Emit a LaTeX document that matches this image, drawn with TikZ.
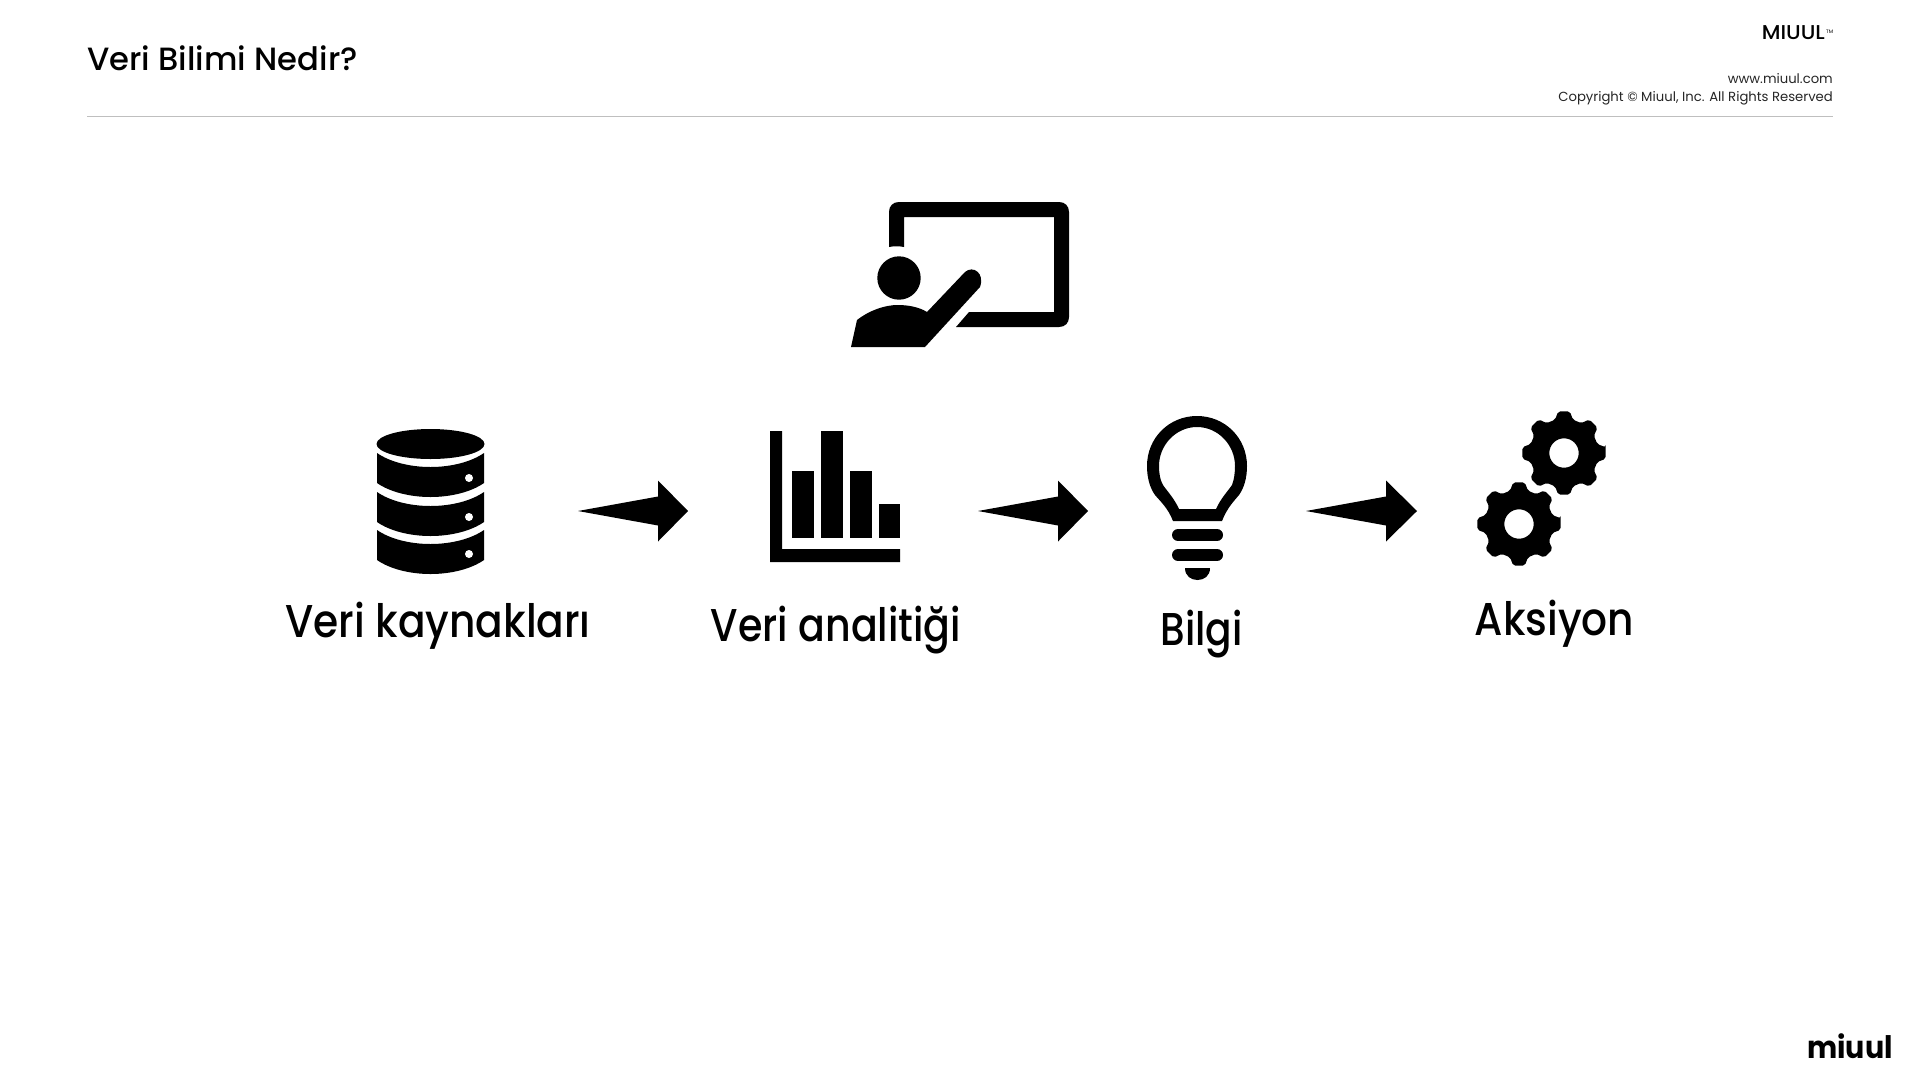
\documentclass[tikz,border=0pt]{standalone}
\usepackage{fontspec}
\setmainfont{Poppins}
\newfontfamily\medfont{Poppins Medium}
\usetikzlibrary{calc}
\tikzset{
  label/.style={anchor=base,inner sep=0pt,font=\medfont\fontsize{46}{46}\selectfont},
  foot/.style={anchor=base east,inner sep=0pt,text=black!85,font=\fontsize{13.2}{13.2}\selectfont},
  flowarrow/.style={fill=black,to path={-- ($(\tikztostart)+(80,-14.5)$) -- ($(\tikztostart)+(80,-30.5)$) -- (\tikztotarget) -- ($(\tikztostart)+(80,30.5)$) -- ($(\tikztostart)+(80,14.5)$) -- cycle}},
}
\begin{document}
\begin{tikzpicture}[x=1pt,y=-1pt]
\useasboundingbox (0,0)rectangle(1920,1080);
\fill[white] (0,0)rectangle(1920,1080);
% header
\node[anchor=base west,inner sep=0pt,font=\medfont\fontsize{32.2}{32.2}\selectfont] (title) at (87,70) {Veri Bilimi Nedir?};
\node[foot,text=black,font=\medfont\fontsize{20}{20}\selectfont] (brand) at (1825,39) {\scalebox{1.06}[1]{MIUUL}};
\node[anchor=base west,inner sep=0pt,font=\fontsize{5}{5}\selectfont] (tm) at (1826,33) {TM};
\node[foot] (web) at (1833,83.5) {www.miuul.com};
\node[foot] (copy) at (1833,101.5) {Copyright © Miuul, Inc. All Rights Reserved};
\draw[black!25,line width=1pt] (87,116.5)--(1833,116.5);
% board
\fill (889,247)--(889,212) .. controls (889,206) and (893,202) .. (899,202)--(1059,202) .. controls (1065,202) and (1069,206) .. (1069,212)--(1069,317) .. controls (1069,323) and (1065,327) .. (1059,327)--(956,327)--(969,312)--(1054,312)--(1054,217)--(904,217)--(904,247) .. controls (899,246) and (894,246) .. (889,247)--cycle;
\fill (899,278) circle[radius=21.7];
\fill (851,347)--(857,320) .. controls (870,310) and (885,305) .. (898,305) .. controls (908,305) and (919,307) .. (927,312)--(965,272) .. controls (973,265) and (985,273) .. (980,287)--(925,347)--cycle;
% database
\fill (430.5,444) ellipse[x radius=54,y radius=15];
\foreach \t/\b in {453/483,492/522,530/560}
  \fill (377,\t) .. controls (390,\t+9) and (410,\t+14) .. (430.5,\t+14) .. controls (451,\t+14) and (471,\t+9) .. (484,\t)--(484,\b) .. controls (471,\b+9) and (451,\b+14) .. (430.5,\b+14) .. controls (410,\b+14) and (390,\b+9) .. (377,\b)--cycle;
\foreach \y in {478,517,554}\fill[white] (469,\y) circle[radius=4];
% chart
\fill (770,431)--(782,431)--(782,549)--(900,549)--(900,562)--(770,562)--cycle;
\fill (792,471)rectangle(814,538);
\fill (821,431)rectangle(843,538);
\fill (850,471)rectangle(872,538);
\fill (879,504)rectangle(900,538);
% bulb
\fill[even odd rule] (1173,521) .. controls (1168,508) and (1160,501) .. (1155,495) .. controls (1150,488) and (1147,478) .. (1147,466) .. controls (1147,438) and (1169,416) .. (1197,416) .. controls (1225,416) and (1247,438) .. (1247,466) .. controls (1247,478) and (1244,488) .. (1239,495) .. controls (1234,501) and (1227,508) .. (1222,521)--cycle
  (1179,509)--(1216,509) .. controls (1221,498) and (1228,491) .. (1232,485) .. controls (1234,480) and (1235,473) .. (1235,466) .. controls (1235,445) and (1218,427) .. (1197,427) .. controls (1176,427) and (1159,445) .. (1159,466) .. controls (1159,473) and (1160,480) .. (1163,485) .. controls (1167,491) and (1174,498) .. (1179,509)--cycle;
\foreach \y in {535,555}\draw[line width=12pt,line cap=round] (1178,\y)--(1217,\y);
\fill (1185,568)--(1210,568) .. controls (1210,576) and (1204,580) .. (1197.5,580) .. controls (1191,580) and (1185,576) .. (1185,568)--cycle;
% gears
\foreach \cx/\cy in {1564/453,1519/524}
  \fill[even odd rule,shift={(\cx,\cy)},rounded corners=2pt] (-8:42) \foreach \a in {0,45,...,315}{--(\a-8:42)--(\a+8:42)--(\a+15:34.5)--(\a+30:34.5)} --cycle (0,0) circle[radius=14.7];
% labels
\node[label] (src) at (438,637) {\scalebox{0.885}[1]{Veri kaynakları}};
\node[label] (ana) at (836,641) {\scalebox{0.86}[1]{Veri analitiği}};
\node[label] (info) at (1201.5,645) {\scalebox{0.85}[1]{Bilgi}};
\node[label] (act) at (1554.5,635) {\scalebox{0.885}[1]{Aksiyon}};
% arrows
\coordinate (srcout) at (578,511);
\coordinate (anain) at (688,511);
\coordinate (anaout) at (978,511);
\coordinate (infoin) at (1088,511);
\coordinate (infoout) at (1306,511);
\coordinate (actin) at (1417,511);
\path[flowarrow] (srcout) to (anain);
\path[flowarrow] (anaout) to (infoin);
\path[flowarrow] (infoout) to (actin);
% logo
\node[anchor=base east,inner sep=0pt,font=\bfseries\fontsize{31}{31}\selectfont] (logo) at (1893,1058) {\scalebox{0.92}[1]{miuul}};
\end{tikzpicture}
\end{document}
